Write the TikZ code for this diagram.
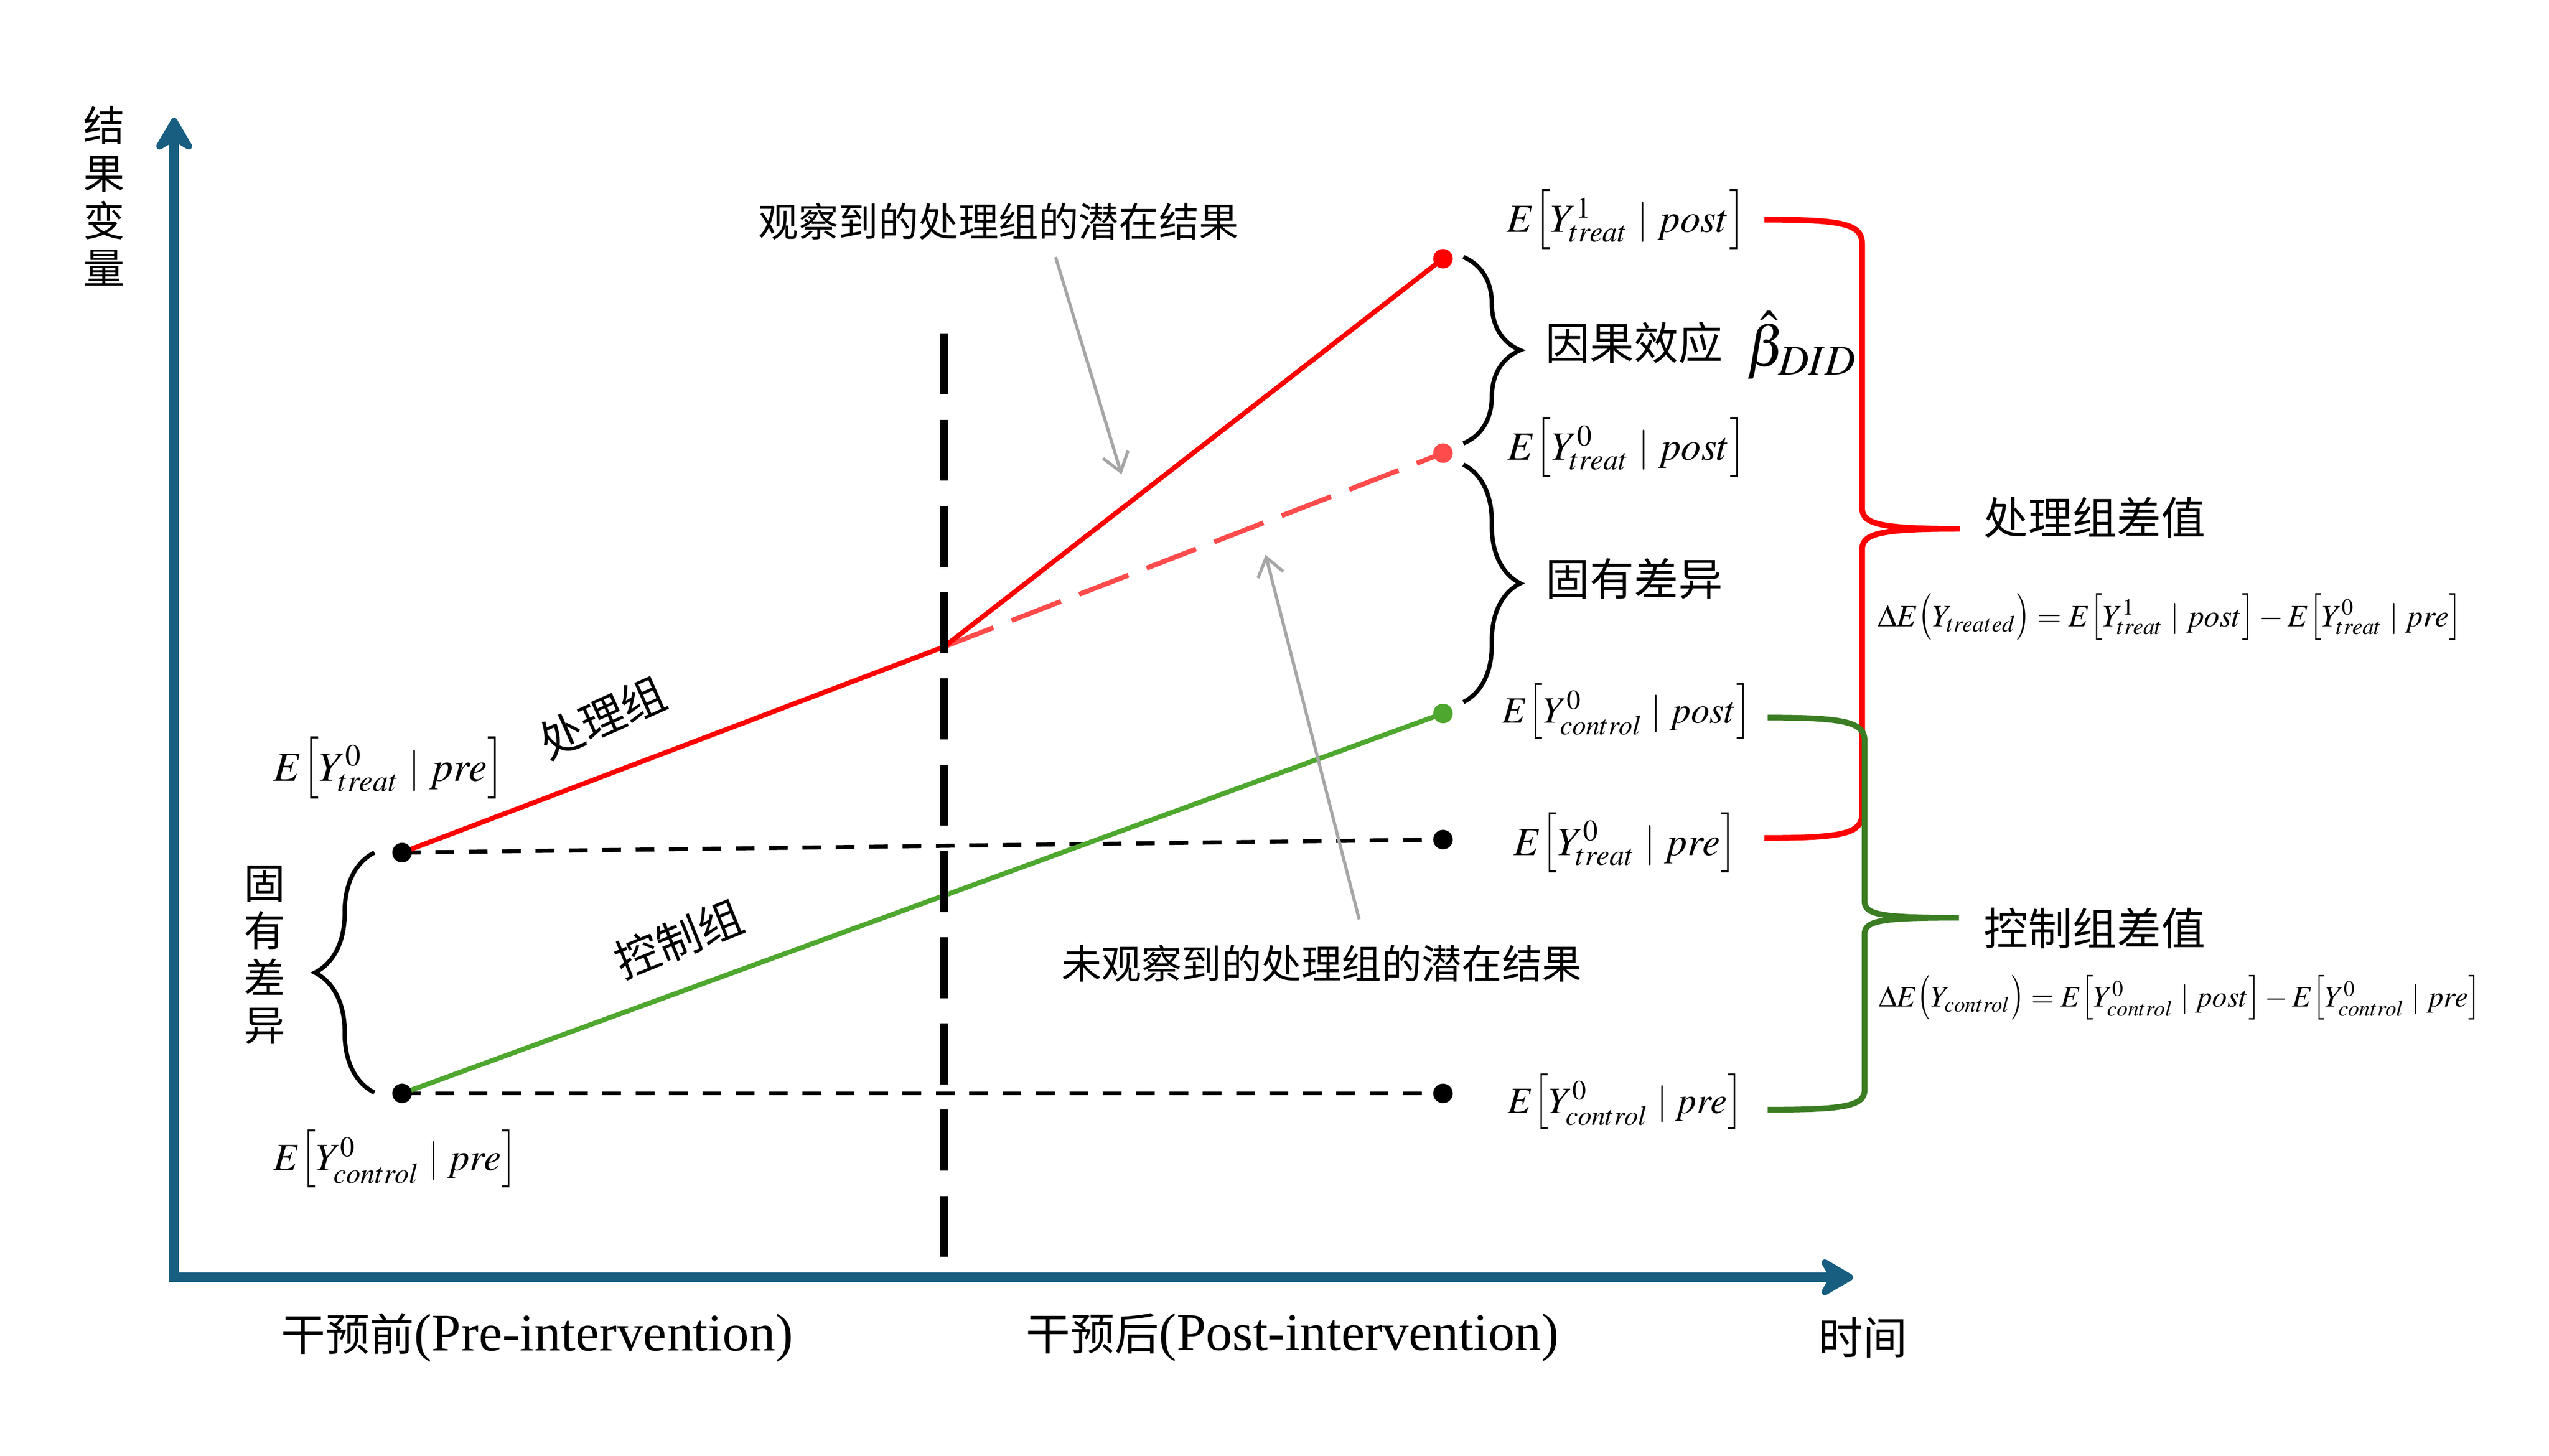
\documentclass[tikz,border=0pt]{standalone}
\usepackage{mathptmx}
\usepackage{graphicx}
\usepackage{fontspec}
\setmainfont{Liberation Serif}
\newfontfamily\cjk{Noto Sans CJK SC}
\usetikzlibrary{arrows.meta,decorations.pathreplacing}

\definecolor{axisblue}{RGB}{23,94,128}
\definecolor{treatred}{RGB}{255,0,0}
\definecolor{cfred}{RGB}{255,75,75}
\definecolor{ctrlgreen}{RGB}{78,167,46}
\definecolor{bracegreen}{RGB}{58,125,34}
\definecolor{notegray}{RGB}{166,166,166}

% stretched delimiters
\newcommand{\lbk}{\mathopen{\scalebox{1}[1.25]{$\bigl[$}}}
\newcommand{\rbk}{\mathclose{\scalebox{1}[1.25]{$\bigr]$}}}
\newcommand{\lpn}{\mathopen{\scalebox{1}[1.25]{$\bigl($}}}
\newcommand{\rpn}{\mathclose{\scalebox{1}[1.25]{$\bigr)$}}}

\begin{document}
\begin{tikzpicture}[
    zh/.style={font=\cjk\fontsize{14}{17}\selectfont, inner sep=0pt},
    zhbig/.style={font=\cjk\fontsize{15.5}{18}\selectfont, inner sep=0pt},
    zhcol/.style={font=\cjk\fontsize{14.5}{16.6}\selectfont, inner sep=0pt, align=center},
    axlbl/.style={font=\fontsize{18.5}{20}\selectfont, inner sep=0pt},
    expect/.style={font=\fontsize{14}{17}\selectfont, inner sep=0pt},
    formula/.style={font=\fontsize{10.9}{13}\selectfont, inner sep=0pt},
    dot/.style={circle, fill=black, inner sep=0pt, minimum size=0.24cm},
    axisline/.style={line width=3.4pt, draw=axisblue, line join=miter, {Stealth[length=0.5cm,width=0.58cm,inset=0.17cm,round]}-{Stealth[length=0.5cm,width=0.58cm,inset=0.17cm,round]}},
    cutline/.style={line width=2.8pt, dash pattern=on 0.75cm off 0.31cm},
    preline/.style={line width=1.4pt, dash pattern=on 0.23cm off 0.18cm},
    grpline/.style={line width=1.7pt},
    cfline/.style={line width=1.7pt, draw=cfred, dash pattern=on 0.65cm off 0.24cm},
    notearrow/.style={line width=1.1pt, draw=notegray, -{Straight Barb[length=0.22cm,width=0.32cm]}},
    gapbrace/.style={line width=1.5pt, decorate, decoration={brace, amplitude=0.7cm}},
    diffbrace/.style={line width=2pt}
]
\path[use as bounding box] (-2.14,-2.192) rectangle (29.18,15.7);

% Axes
\coordinate (orig) at (0,0);
\coordinate (ytip) at (0,14.25);
\coordinate (xtip) at (20.63,0);
\draw[axisline] (ytip) -- (orig) -- (xtip);

% Points
\coordinate (tpre) at (2.80,5.22);
\coordinate (cpre) at (2.80,2.26);
\coordinate (mid) at (9.46,7.75);
\coordinate (tpost) at (15.59,12.52);
\coordinate (cf) at (15.59,10.13);
\coordinate (cpost) at (15.59,6.93);
\coordinate (tend) at (15.59,5.38);
\coordinate (cend) at (15.59,2.26);
\coordinate (cuttop) at (9.46,11.6);
\coordinate (cutbot) at (9.46,0.2);

% Lines
\draw[preline] (tpre) -- (tend);
\draw[preline] (cpre) -- (cend);
\draw[cfline] (mid) -- (cf);
\draw[grpline, draw=ctrlgreen] (cpre) -- (cpost);
\draw[grpline, draw=treatred] (tpre) -- (mid) -- (tpost);
\draw[cutline] (cuttop) -- (cutbot);

\node[dot] (dtpre) at (tpre) {};
\node[dot] (dcpre) at (cpre) {};
\node[dot, fill=treatred] (dtpost) at (tpost) {};
\node[dot, fill=cfred] (dcf) at (cf) {};
\node[dot, fill=ctrlgreen] (dcpost) at (cpost) {};
\node[dot] (dtend) at (tend) {};
\node[dot] (dcend) at (cend) {};

% Axis labels
\node[zhcol] (ylab) at (-0.86,13.29) {结\\果\\变\\量};
\node[axlbl] (prelab) at (4.46,-0.74) {{\cjk\fontsize{15.5}{20}\selectfont 干预前}(Pre-intervention)};
\node[axlbl] (postlab) at (13.74,-0.74) {{\cjk\fontsize{15.5}{20}\selectfont 干预后}(Post-intervention)};
\node[zhbig] (timelab) at (20.75,-0.74) {时间};

% Left side
\node[expect, font=\fontsize{14.5}{17}\selectfont] (ltpre) at (2.64,6.26) {$E\lbk Y^0_{treat}\mid pre\rbk$};
\node[expect, font=\fontsize{13.5}{17}\selectfont] (lcpre) at (2.72,1.46) {$E\lbk Y^0_{control}\mid pre\rbk$};
\node[zhbig, rotate=24] (tgrp) at (5.26,6.88) {处理组};
\node[zhbig, rotate=22] (cgrp) at (6.2,4.16) {控制组};
\node[zhcol] (gapl) at (1.11,3.96) {固\\有\\差\\异};
\coordinate (lbA) at (2.46,2.27);
\coordinate (lbB) at (2.46,5.22);
\draw[gapbrace, decoration={amplitude=0.73cm}] (lbA) -- (lbB);

% Potential outcome notes
\node[zh] (obs) at (10.13,12.98) {观察到的处理组的潜在结果};
\node[zh] (unobs) at (14.1,3.86) {未观察到的处理组的潜在结果};
\coordinate (obsfoot) at (10.83,12.54);
\coordinate (obstip) at (11.64,9.87);
\coordinate (unobsfoot) at (14.56,4.40);
\coordinate (unobstip) at (13.41,8.88);
\draw[notearrow] (obsfoot) -- (obstip);
\draw[notearrow] (unobsfoot) -- (unobstip);

% Right side expectations
\node[expect] (rt1post) at (17.84,13.0) {$E\lbk Y^1_{treat}\mid post\rbk$};
\node[expect] (rt0post) at (17.85,10.2) {$E\lbk Y^0_{treat}\mid post\rbk$};
\node[expect, font=\fontsize{13}{17}\selectfont] (rc0post) at (17.85,6.96) {$E\lbk Y^0_{control}\mid post\rbk$};
\node[expect] (rt0pre) at (17.83,5.34) {$E\lbk Y^0_{treat}\mid pre\rbk$};
\node[expect, font=\fontsize{13}{17}\selectfont] (rc0pre) at (17.83,2.16) {$E\lbk Y^0_{control}\mid pre\rbk$};

\coordinate (b1A) at (15.84,12.54);
\coordinate (b1B) at (15.84,10.25);
\coordinate (b2A) at (15.84,9.99);
\coordinate (b2B) at (15.84,7.07);
\draw[gapbrace] (b1A) -- (b1B);
\draw[gapbrace] (b2A) -- (b2B);
\node[zhbig] (cause) at (17.94,11.49) {因果效应};
\node[font=\fontsize{20}{22}\selectfont, inner sep=0pt] (beta) at (20.0,11.46) {$\hat{\beta}_{DID}$};
\node[zhbig] (gapr) at (17.94,8.59) {固有差异};

% Difference braces
\coordinate (rA) at (19.54,13.0);
\coordinate (rT) at (21.94,9.2);
\coordinate (rB) at (19.54,5.4);
\draw[diffbrace, draw=treatred] (rA) .. controls (20.5,13.0) and (20.74,12.95) .. (20.74,12.7)
    -- (20.74,9.45) .. controls (20.74,9.25) and (21.0,9.2) .. (rT)
    .. controls (21.0,9.2) and (20.74,9.15) .. (20.74,8.95)
    -- (20.74,5.7) .. controls (20.74,5.45) and (20.5,5.4) .. (rB);
\coordinate (gA) at (19.58,6.88);
\coordinate (gT) at (21.93,4.42);
\coordinate (gB) at (19.58,2.06);
\draw[diffbrace, draw=bracegreen] (gA) .. controls (20.5,6.88) and (20.77,6.83) .. (20.77,6.6)
    -- (20.77,4.62) .. controls (20.77,4.45) and (21.0,4.42) .. (gT)
    .. controls (21.0,4.42) and (20.77,4.39) .. (20.77,4.22)
    -- (20.77,2.3) .. controls (20.77,2.1) and (20.5,2.06) .. (gB);

\node[zhbig] (tdiff) at (23.6,9.34) {处理组差值};
\node[formula] (tform) at (24.52,8.12) {$\Delta E\lpn Y_{treated}\rpn=E\lbk Y^1_{treat}\mid post\rbk-E\lbk Y^0_{treat}\mid pre\rbk$};
\node[zhbig] (cdiff) at (23.6,4.29) {控制组差值};
\node[formula, font=\fontsize{10.4}{13}\selectfont] (cform) at (24.64,3.44) {$\Delta E\lpn Y_{control}\rpn=E\lbk Y^0_{control}\mid post\rbk-E\lbk Y^0_{control}\mid pre\rbk$};

\end{tikzpicture}
\end{document}
